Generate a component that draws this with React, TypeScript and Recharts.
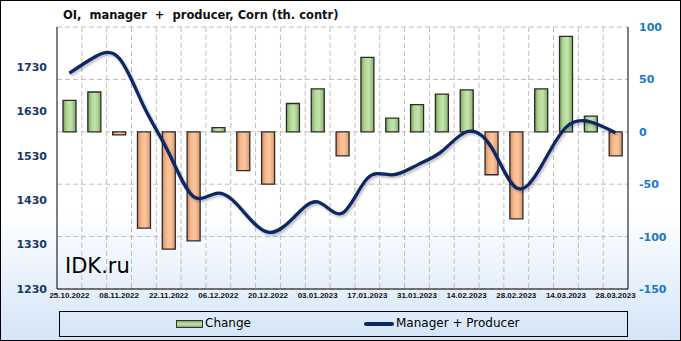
import React from 'react';
import { ComposedChart, Bar, Line, XAxis, YAxis, CartesianGrid, Legend, Cell } from 'recharts';

// weekly report dates
const dates = [
  '25.10.2022', '01.11.2022', '08.11.2022', '15.11.2022', '22.11.2022', '29.11.2022',
  '06.12.2022', '13.12.2022', '20.12.2022', '27.12.2022', '03.01.2023', '10.01.2023',
  '17.01.2023', '24.01.2023', '31.01.2023', '07.02.2023', '14.02.2023', '21.02.2023',
  '28.02.2023', '07.03.2023', '14.03.2023', '21.03.2023', '28.03.2023',
];

// weekly change, th. contracts (right axis)
const change = [30, 38, -3, -92, -112, -104, 4, -37, -50, 27, 41, -23, 71, 13, 26, 36, 40, -41, -83, 41, 91, 15, -23];

// manager + producer open interest (left axis)
const total = [1716, 1752, 1750, 1641, 1537, 1438, 1446, 1405, 1358, 1389, 1426, 1401, 1479, 1487, 1509, 1540, 1584, 1549, 1458, 1506, 1594, 1606, 1582];

const leftTicks = [1230, 1330, 1430, 1530, 1630, 1730];
const rightTicks = [-150, -100, -50, 0, 50, 100];

const rows = dates.map((d, i) => ({ date: d, change: change[i], total: total[i] }));

const palette = {
  navy: '#0b2765',
  leftText: '#1a3768',
  rightText: '#1a78c8',
  grid: '#bdbdbd',
  border: '#000000',
};

const font = '"DejaVu Sans", Verdana, sans-serif';

const LegendBox = () => (
  <div
    style={{
      position: 'relative',
      width: 569,
      height: 26,
      border: '1px solid #000',
      boxSizing: 'border-box',
      fontFamily: font,
      fontSize: 12,
      color: '#000',
    }}
  >
    <div
      style={{
        position: 'absolute', left: 116, top: 8, width: 27, height: 8,
        border: '1px solid #333', boxSizing: 'border-box',
        background: 'linear-gradient(#7fa864, #c6e4b1 50%, #86b066)',
      }}
    />
    <span style={{ position: 'absolute', left: 145, top: 4 }}>Change</span>
    <div
      style={{
        position: 'absolute', left: 304, top: 10, width: 30, height: 4,
        borderRadius: 2, background: palette.navy,
      }}
    />
    <span style={{ position: 'absolute', left: 336, top: 4 }}>Manager + Producer</span>
  </div>
);

export default function App() {
  return (
    <div
      style={{
        position: 'absolute',
        left: 0,
        top: 0,
        width: 681,
        height: 341,
        border: '1px solid #000',
        boxSizing: 'border-box',
        background: 'linear-gradient(#ffffff 0%, #ffffff 62%, #d4e5f8 100%)',
      }}
    >
      <div
        style={{
          position: 'absolute', left: 62, top: 7, fontFamily: font, fontSize: 11.5,
          fontWeight: 'bold', color: '#111', whiteSpace: 'pre',
        }}
      >
        {'OI,  manager  +  producer, Corn (th. contr)'}
      </div>
      <div
        style={{
          position: 'absolute', left: 64, top: 253, fontFamily: font, fontSize: 21,
          color: '#000', zIndex: 2,
        }}
      >
        IDK.ru
      </div>
      <ComposedChart
        width={679}
        height={339}
        data={rows}
        margin={{ top: 26, right: 6, left: 10, bottom: 31 }}
        barCategoryGap={0}
      >
        <defs>
          <linearGradient id="gGreen" x1="0" y1="0" x2="1" y2="0">
            <stop offset="0%" stopColor="#78a35a" />
            <stop offset="30%" stopColor="#b3d89a" />
            <stop offset="60%" stopColor="#c4e3ae" />
            <stop offset="100%" stopColor="#84af66" />
          </linearGradient>
          <linearGradient id="gOrange" x1="0" y1="0" x2="1" y2="0">
            <stop offset="0%" stopColor="#d9875a" />
            <stop offset="30%" stopColor="#f6b98e" />
            <stop offset="60%" stopColor="#fcc7a0" />
            <stop offset="100%" stopColor="#e0946a" />
          </linearGradient>
          <filter id="lineShadow" x="-5%" y="-10%" width="110%" height="130%">
            <feDropShadow dx="1.5" dy="2" stdDeviation="1.2" floodColor="#000" floodOpacity="0.25" />
          </filter>
        </defs>
        <CartesianGrid
          yAxisId="right"
          stroke={palette.grid}
          strokeDasharray="5 3"
          verticalCoordinatesGenerator={({ offset }: any) =>
            dates.slice(1).map((_, i) => offset.left + ((i + 1) * offset.width) / dates.length)
          }
        />
        <XAxis
          dataKey="date"
          interval={1}
          height={20}
          tickLine={false}
          tickSize={2}
          tickMargin={1}
          axisLine={{ stroke: palette.border }}
          tick={{ fontFamily: '"Liberation Sans", Arial, sans-serif', fontSize: 8, fontWeight: 'bold', fill: '#111' }}
        />
        <XAxis xAxisId="top" orientation="top" dataKey="date" height={0} tick={false} tickLine={false} axisLine={{ stroke: palette.border }} />
        <YAxis
          yAxisId="left"
          orientation="left"
          width={46}
          domain={[1230, 1820]}
          ticks={leftTicks}
          tickLine={false}
          tickMargin={4}
          axisLine={{ stroke: palette.border }}
          tick={{ fontFamily: font, fontSize: 11, fontWeight: 'bold', fill: palette.leftText }}
        />
        <YAxis
          yAxisId="right"
          orientation="right"
          width={46}
          domain={[-150, 100]}
          ticks={rightTicks}
          tickLine={false}
          tickMargin={5}
          axisLine={{ stroke: palette.border }}
          tick={{ fontFamily: font, fontSize: 11, fontWeight: 'bold', fill: palette.rightText }}
        />
        <Legend
          layout="horizontal"
          verticalAlign="middle"
          align="center"
          wrapperStyle={{ left: 58, top: 310, width: 569, height: 26 }}
          content={() => <LegendBox />}
        />
        <Bar yAxisId="right" dataKey="change" name="Change" barSize={13} stroke="#2b2b2b" strokeWidth={1.3} isAnimationActive={false}>
          {rows.map((r, i) => (
            <Cell key={i} fill={r.change >= 0 ? 'url(#gGreen)' : 'url(#gOrange)'} />
          ))}
        </Bar>
        <Line
          yAxisId="left"
          type="natural"
          dataKey="total"
          name="Manager + Producer"
          stroke={palette.navy}
          strokeWidth={3.3}
          filter="url(#lineShadow)"
          dot={false}
          activeDot={false}
          isAnimationActive={false}
        />
      </ComposedChart>
    </div>
  );
}
